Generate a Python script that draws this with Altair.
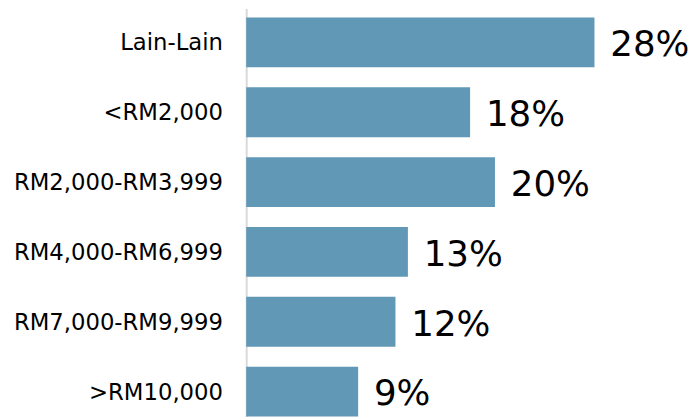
import altair as alt
import pandas as pd

categories = ["Lain-Lain", "<RM2,000", "RM2,000-RM3,999", "RM4,000-RM6,999", "RM7,000-RM9,999", ">RM10,000"]
values = [28, 18, 20, 13, 12, 9]
labels = ["28%", "18%", "20%", "13%", "12%", "9%"]

df = pd.DataFrame({"cat": categories, "val": values, "lab": labels})

FONT = "DejaVu Sans"

y = alt.Y("cat:N", sort=categories, title=None,
          scale=alt.Scale(paddingInner=0.2857, paddingOuter=0.129),
          axis=alt.Axis(ticks=False, labelPadding=24, labelFontSize=23, labelFont=FONT,
                        labelOffset=1, labelLimit=0, labelColor="#000000",
                        domainColor="#d9d9d9", domainWidth=2))
x = alt.X("val:Q", title=None, scale=alt.Scale(domain=[0, 35.6], nice=False), axis=None)

bars = alt.Chart(df).mark_bar(color="#6098b6").encode(x=x, y=y)
text = alt.Chart(df).mark_text(align="left", baseline="middle", dx=16, dy=3, fontSize=36,
                               font=FONT, color="#000000").encode(x=x, y=y, text="lab:N")

chart = (bars + text).properties(
    width=448, height=422,
    autosize=alt.AutoSizeParams(type="none"),
    padding={"left": 241, "top": -2, "right": 0, "bottom": 0},
).configure_view(stroke=None)

chart.save("out.html", embed_options={"renderer": "svg", "actions": False})
